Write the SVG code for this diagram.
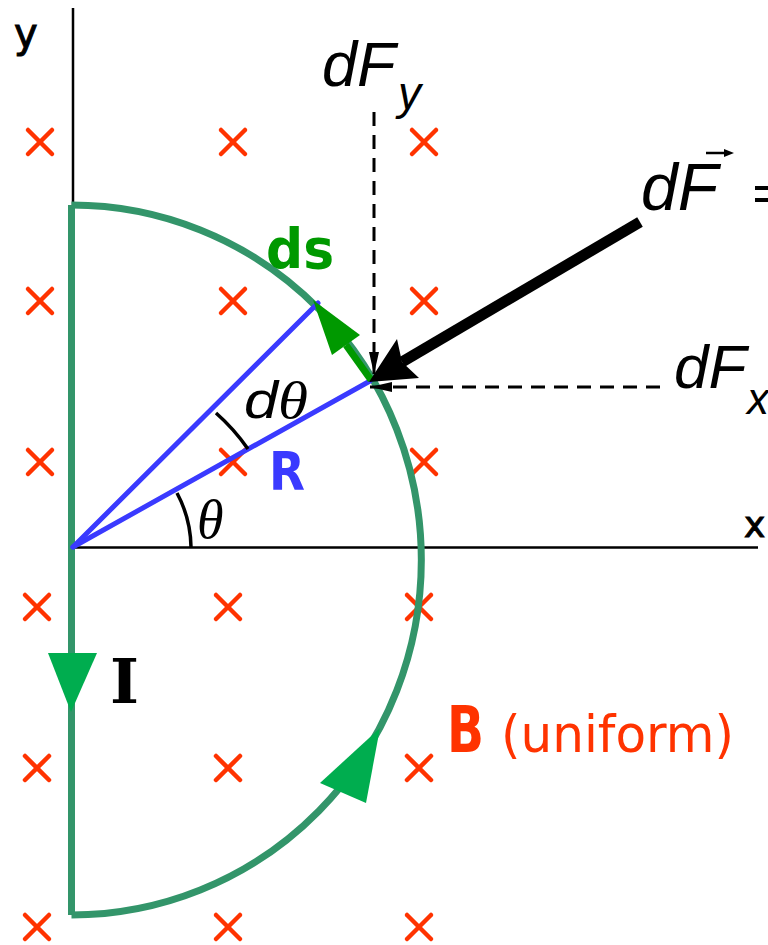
<svg xmlns="http://www.w3.org/2000/svg" width="768" height="945" viewBox="0 0 768 945">
<style>
.axis{stroke:#000;stroke-width:2.5;fill:none}
.wire{stroke:#33956a;stroke-width:7;fill:none}
.bx{stroke:#ff3300;stroke-width:4.5;stroke-linecap:round}
.rad{stroke:#3a3aff;stroke-width:5;fill:none;stroke-linecap:round}
.ang{stroke:#000;stroke-width:3.5;fill:none}
.dash{stroke:#000;stroke-width:3;fill:none;stroke-dasharray:14 9}
.lab{font-family:"Liberation Sans","DejaVu Sans",sans-serif;font-style:italic;fill:#000}
.hand{font-family:"DejaVu Sans","Liberation Sans",sans-serif;}
</style>
<defs>
<marker id="thin" markerWidth="24" markerHeight="12" refX="22" refY="6" orient="auto" markerUnits="userSpaceOnUse">
<path d="M0,1 L22,6 L0,11 z" fill="#000"/>
</marker>
<g id="xm"><line class="bx" x1="-12" y1="-12" x2="12" y2="12"/><line class="bx" x1="12" y1="-12" x2="-12" y2="12"/></g>
</defs>
<rect width="768" height="945" fill="#fff"/>

<g id="field">
<use href="#xm" x="40" y="142"/><use href="#xm" x="233" y="142"/><use href="#xm" x="424" y="142"/>
<use href="#xm" x="40" y="301"/><use href="#xm" x="233" y="301"/><use href="#xm" x="424" y="301"/>
<use href="#xm" x="40" y="462"/><use href="#xm" x="233" y="462"/><use href="#xm" x="424" y="462"/>
<use href="#xm" x="37" y="607"/><use href="#xm" x="228" y="607"/><use href="#xm" x="419" y="607"/>
<use href="#xm" x="37" y="768"/><use href="#xm" x="228" y="768"/><use href="#xm" x="419" y="768"/>
<use href="#xm" x="37" y="927"/><use href="#xm" x="228" y="927"/><use href="#xm" x="419" y="927"/>
</g>

<g id="axes">
<line class="axis" x1="73" y1="8" x2="73" y2="548"/>
<line class="axis" x1="73" y1="547.5" x2="758" y2="547.5"/>
<text class="hand" x="14" y="47" font-size="40" stroke="#000" stroke-width="1">y</text>
<text class="hand" x="744" y="537" font-size="36" stroke="#000" stroke-width="1">x</text>
</g>

<g id="wire">
<path class="wire" d="M71.5,205 L71.5,915"/>
<path class="wire" d="M71.5,205 A350,355 0 0 1 71.5,915"/>
<polygon points="48,653 97,653 71,712" fill="#00ad4f"/>
<polygon points="380,728 320,783 366,803" fill="#00ad4f"/>
<text x="110" y="703" font-size="62" font-weight="bold" style="font-family:'DejaVu Serif',serif">I</text>
</g>

<g id="radii">
<line class="rad" x1="73" y1="547" x2="370" y2="381"/>
<line class="rad" x1="73" y1="547" x2="318" y2="303"/>
<path class="ang" d="M191,547 A118,118 0 0 0 177,493"/>
<path class="ang" d="M248,449 A200,200 0 0 0 216,413"/>
<text class="lab" x="197" y="538" font-size="54" style="font-family:'Liberation Serif',serif;font-style:italic">θ</text>
<text class="lab" x="244" y="418" font-size="52" textLength="64" lengthAdjust="spacingAndGlyphs">d<tspan style="font-family:'Liberation Serif',serif">θ</tspan></text>
<text class="hand" x="269" y="490" font-size="54" font-weight="bold" fill="#3a3aff" textLength="36" lengthAdjust="spacingAndGlyphs">R</text>
</g>

<g id="ds">
<line x1="371" y1="380" x2="346" y2="345" stroke="#009900" stroke-width="7"/>
<polygon points="313,300 360,335 332,355" fill="#009900"/>
<text class="hand" x="266" y="268" font-size="56" font-weight="bold" fill="#009900" textLength="68" lengthAdjust="spacingAndGlyphs">ds</text>
</g>

<g id="connectors">
<line class="dash" x1="374" y1="112" x2="374" y2="374" marker-end="url(#thin)"/>
<line class="dash" x1="660" y1="387" x2="370" y2="387" marker-end="url(#thin)"/>
<line x1="640" y1="222" x2="402" y2="362" stroke="#000" stroke-width="11"/>
<polygon points="369,382 397,339 402,362 419,378" fill="#000"/>
</g>

<g id="labels">
<text class="lab" x="322" y="86" font-size="63">dF</text>
<text class="lab" x="398" y="109" font-size="46">y</text>
<text class="lab" x="641" y="210" font-size="66">dF</text>
<line x1="706" y1="153" x2="726" y2="153" stroke="#000" stroke-width="2.5"/>
<path d="M734,153 L724,149 L724,157 z" fill="#000"/>
<rect x="755" y="186" width="15" height="4" fill="#000"/>
<rect x="755" y="198" width="15" height="4" fill="#000"/>
<text class="lab" x="674" y="388" font-size="62">dF</text>
<text class="lab" x="747" y="414" font-size="44">x</text>
<text class="hand" x="447" y="752" font-size="64" font-weight="bold" fill="#ff3300" textLength="37" lengthAdjust="spacingAndGlyphs">B</text>
<text class="hand" x="501" y="752" font-size="52" fill="#ff3300" textLength="233" lengthAdjust="spacingAndGlyphs">(uniform)</text>
</g>
</svg>
